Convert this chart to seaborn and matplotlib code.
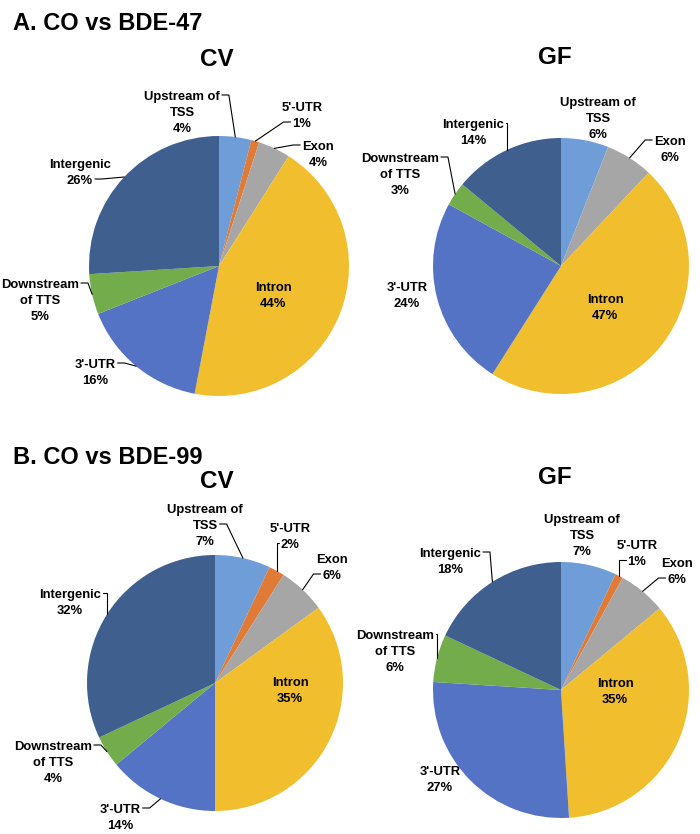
import matplotlib
matplotlib.use("Agg")
import matplotlib.pyplot as plt
import seaborn as sns
import numpy as np
from matplotlib.lines import Line2D

# ---------------- data ----------------
categories = ["Upstream of\nTSS", "5'-UTR", "Exon", "Intron", "3'-UTR",
              "Downstream\nof TTS", "Intergenic"]
colors = ["#6e9dd7", "#df7b37", "#a6a6a6", "#f1bf2d", "#5473c4", "#73ac4a", "#3f5f8e"]
a_cv = [4, 1, 4, 44, 16, 5, 26]
a_gf = [6, 0, 6, 47, 24, 3, 14]
b_cv = [7, 2, 6, 35, 14, 4, 32]
b_gf = [7, 1, 6, 35, 27, 6, 18]
section_titles = ["A. CO vs BDE-47", "B. CO vs BDE-99"]
pie_titles = ["CV", "GF", "CV", "GF"]

sns.set_theme(style="white")
plt.rcParams["font.family"] = ["Liberation Sans", "DejaVu Sans"]
plt.rcParams["text.color"] = "black"

W, H = 700, 834
fig = plt.figure(figsize=(W / 100, H / 100), dpi=100)
fig.patch.set_facecolor("white")

def fx(px):
    return px / W

def fy(py):
    return 1 - py / H

# layout (pixels): pie centre, radius, title position, label centres,
# leader anchor line index (None = no leader line)
panels = [
    dict(vals=a_cv, c=(219, 266), r=130, title=(217, 60),
         labels=[(182, 111), (302, 114), (318, 153), (273, 294), (95, 371), (40, 299), (80, 171)],
         anchor=[0, 1, 0, None, 0, 0, 1]),
    dict(vals=a_gf, c=(561, 266), r=128, title=(555, 58),
         labels=[(598, 117), None, (670, 148), (605, 306), (407, 294), (400, 173), (473, 131)],
         anchor=[None, None, 0, None, None, 0, 0]),
    dict(vals=b_cv, c=(215, 683), r=128, title=(217, 482),
         labels=[(205, 524), (290, 535), (332, 566), (290, 689), (120, 816), (53, 761), (70, 601)],
         anchor=[1, 1, 1, None, 0, 0, 0]),
    dict(vals=b_gf, c=(561, 690), r=128, title=(555, 477),
         labels=[(582, 534), (637, 552), (677, 570), (615, 690), (440, 778), (395, 650), (450, 560)],
         anchor=[None, 1, 1, None, None, 0, 0]),
]

fig.text(fx(13), fy(24), section_titles[0], fontsize=17, fontweight="bold", va="center", ha="left")
fig.text(fx(13), fy(458), section_titles[1], fontsize=17, fontweight="bold", va="center", ha="left")

LBL = dict(fontsize=9.4, fontweight="bold")
STEP = 16      # px between label lines
CAPH = 4.8     # half cap height in px

leaders = []
for p, ttl in zip(panels, pie_titles):
    cx, cy = p["c"]
    r = p["r"]
    ax = fig.add_axes([fx(cx - r), fy(cy + r), 2 * r / W, 2 * r / H])
    wedges, _ = ax.pie(p["vals"], colors=colors, startangle=90, counterclock=False,
                       radius=1, wedgeprops=dict(linewidth=0))
    ax.set_xlim(-1, 1)
    ax.set_ylim(-1, 1)
    ax.axis("off")
    fig.text(fx(p["title"][0]), fy(p["title"][1]), ttl, fontsize=17.5,
             fontweight="bold", ha="center", va="center")
    for i, (cat, v) in enumerate(zip(categories, p["vals"])):
        pos = p["labels"][i]
        if pos is None:
            continue
        lines = f"{cat}\n{v}%".split("\n")
        n = len(lines)
        objs = []
        for k, ln in enumerate(lines):
            yc = pos[1] + (k - (n - 1) / 2) * STEP
            t = fig.text(fx(pos[0]), fy(yc + CAPH), ln, ha="center", va="baseline", **LBL)
            objs.append((t, yc))
        a = p["anchor"][i]
        if a is not None:
            w = wedges[i]
            mid = np.deg2rad((w.theta1 + w.theta2) / 2)
            leaders.append((objs[a], pos[0], ax, (np.cos(mid), np.sin(mid))))

fig.canvas.draw()
renderer = fig.canvas.get_renderer()
inv = fig.transFigure.inverted()
for (t, yc), xc, ax, wpt in leaders:
    bb = t.get_window_extent(renderer)
    w = np.array(ax.transData.transform(wpt))
    cxd = (bb.x0 + bb.x1) / 2
    ey = H - yc
    sign = 1 if w[0] >= cxd else -1
    ex = (bb.x1 + 2) if sign > 0 else (bb.x0 - 2)
    hx = ex + sign * min(7, max(0, sign * (w[0] - ex)))
    pts = inv.transform(np.array([[ex, ey], [hx, ey], [w[0], w[1]]]))
    fig.add_artist(Line2D(pts[:, 0], pts[:, 1], color="black",
                          linewidth=0.8, transform=fig.transFigure))

fig.savefig("out.png", dpi=100, facecolor="white")
